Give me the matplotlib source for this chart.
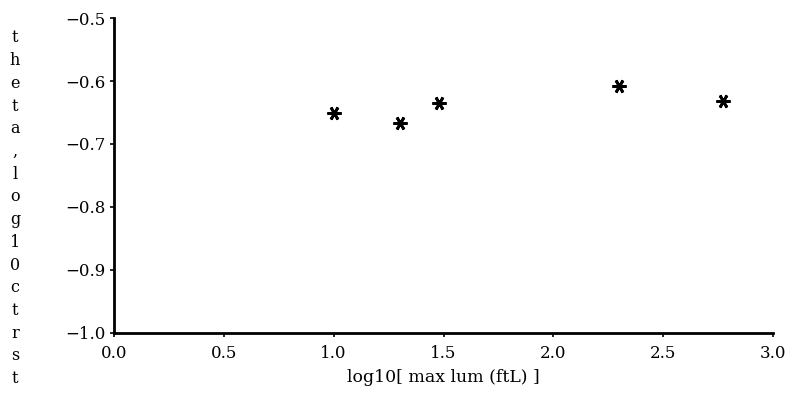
import matplotlib.pyplot as plt

# data
lum = [1.0, 1.3, 1.48, 2.30, 2.77]
theta = [-0.651, -0.667, -0.635, -0.608, -0.632]

xticks = [0.0, 0.5, 1.0, 1.5, 2.0, 2.5, 3.0]
yticks = [-1.0, -0.9, -0.8, -0.7, -0.6, -0.5]

plt.rcParams['font.family'] = ['DejaVu Serif']

fig = plt.figure(figsize=(7.85, 3.93), dpi=100)
ax = fig.add_axes([0.145, 0.153, 0.84, 0.801])

ax.plot(lum, theta, ls='none', marker=(6, 2, 90), markersize=10,
        markeredgewidth=2.0, color='black')

ax.set_xlim(0, 3.0)
ax.set_ylim(-1.0, -0.5)
ax.set_xticks(xticks)
ax.set_xticklabels(['%.1f' % v for v in xticks])
ax.set_yticks(yticks)
ax.set_yticklabels(['\u22121.0', '\u22120.9', '\u22120.8', '\u22120.7', '\u22120.6', '\u22120.5'])
ax.tick_params(labelsize=12, length=3, width=1.2, direction='out')
ax.tick_params(axis='x', pad=6)
ax.tick_params(axis='y', pad=3)

for s in ['top', 'right']:
    ax.spines[s].set_visible(False)
for s in ['left', 'bottom']:
    ax.spines[s].set_linewidth(2)

ax.set_xlabel('log10[ max lum (ftL) ]', fontsize=12.5, labelpad=5)

# vertical stacked y label
label = 'theta,log10ctrst'
fig.text(0.019, 0.47, '\n'.join(label), fontsize=11.5, ha='center', va='center',
         linespacing=1.44)

fig.savefig('out.png', dpi=100)
